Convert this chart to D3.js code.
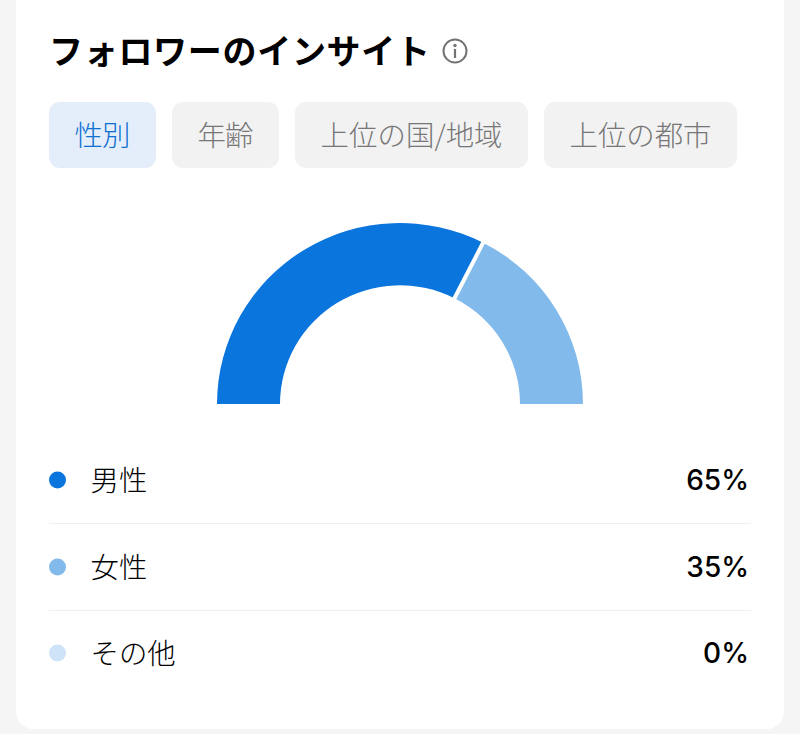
<!DOCTYPE html>
<html><head><meta charset="utf-8">
<script src="https://cdnjs.cloudflare.com/ajax/libs/d3/7.8.5/d3.min.js"></script>
<style>html,body{margin:0;padding:0;background:#f5f5f5}svg{display:block}</style>
</head><body><svg id="c" width="800" height="734"></svg>
<script>
const categories=["男性","女性","その他"];
const values=[65,35,0];
const valueLabels=["65%","35%","0%"];
const colors=["#0a75dc","#83baec","#cee3f8"];
const tabs=["性別","年齢","上位の国/地域","上位の都市"];
const title="フォロワーのインサイト";
const font='"Noto Sans CJK JP","Noto Sans",sans-serif';
const svg=d3.select("#c");
svg.append("rect").attr("x",16).attr("y",-20).attr("width",768).attr("height",749).attr("rx",18).attr("fill","#fff");
svg.append("text").attr("x",49).attr("y",64).attr("font-family",font).attr("font-weight",700).attr("font-size",34).attr("textLength",381).attr("fill","#000").text(title);
const info=svg.append("g").attr("transform","translate(455,51)");
info.append("circle").attr("r",11.5).attr("fill","none").attr("stroke","#737373").attr("stroke-width",2);
info.append("circle").attr("cy",-5.5).attr("r",1.7).attr("fill","#737373");
info.append("rect").attr("x",-1.1).attr("y",-2).attr("width",2.2).attr("height",9).attr("fill","#737373");
const tabX=[49,172,295,544],tabW=[107,107,233,193];
const tabTextW=[56,56,182,142];
tabs.forEach((t,i)=>{
 svg.append("rect").attr("x",tabX[i]).attr("y",102).attr("width",tabW[i]).attr("height",66).attr("rx",11).attr("fill",i?"#f2f2f2":"#e3eefa");
 svg.append("text").attr("x",tabX[i]+tabW[i]/2).attr("y",146).attr("text-anchor","middle").attr("font-family",font).attr("font-size",28.4).attr("font-weight",300).attr("fill",i?"#777":"#0f6fd0").attr("textLength",tabTextW[i]).text(t);
});
const pie=d3.pie().sort(null).startAngle(-Math.PI/2).endAngle(Math.PI/2).value(d=>d);
const arc=d3.arc().innerRadius(120).outerRadius(183);
const g=svg.append("g").attr("transform","translate(400,404) scale(1,0.989)");
g.selectAll("path").data(pie(values)).join("path").attr("d",arc).attr("fill",(d,i)=>colors[i]);
const sep=pie(values)[0].endAngle;
g.append("line").attr("x1",Math.sin(sep)*118).attr("y1",-Math.cos(sep)*118).attr("x2",Math.sin(sep)*185).attr("y2",-Math.cos(sep)*185).attr("stroke","#fff").attr("stroke-width",4);
const rowY=[480,567,653];
categories.forEach((c,i)=>{
 svg.append("circle").attr("cx",57.5).attr("cy",rowY[i]).attr("r",8.5).attr("fill",colors[i]);
 svg.append("text").attr("x",90.5).attr("y",rowY[i]+11).attr("font-family",font).attr("font-size",28.4).attr("font-weight",300).attr("fill","#000").text(c);
 svg.append("text").attr("x",749).attr("y",rowY[i]+10).attr("text-anchor","end").attr("font-family","Inter,Roboto,sans-serif").attr("font-weight",500).attr("font-size",28).attr("fill","#000").text(valueLabels[i]);
 if(i<2) svg.append("line").attr("x1",49).attr("x2",751).attr("y1",rowY[i]+43.5).attr("y2",rowY[i]+43.5).attr("stroke","#efefef");
});
</script></body></html>
